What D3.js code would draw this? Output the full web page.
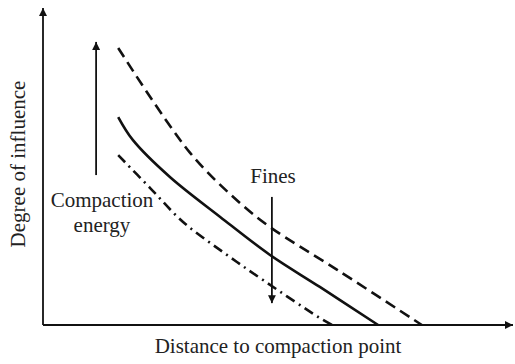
<!DOCTYPE html>
<html>
<head>
<meta charset="utf-8">
<script src="https://cdn.jsdelivr.net/npm/d3@7"></script>
<style>
  html, body { margin: 0; padding: 0; background: #fff; }
  svg { display: block; }
  text { font-family: "Liberation Serif", "Times New Roman", serif; fill: #222; }
</style>
</head>
<body>
<div id="chart"></div>
<script>
// Series (x: distance, y: degree of influence, arbitrary units 0-100)
const dashedX = [16.0, 31.3, 41.9, 48.3, 62.6, 80.6];
const dashedY = [87.4, 54.3, 38.5, 30.9, 17.4, 0];
const solidX  = [16.0, 19.1, 27.0, 37.7, 48.3, 58.9, 71.3];
const solidY  = [65.6, 58.4, 46.7, 34.1, 22.1, 12.0, 0];
const dashDotX = [16.0, 22.8, 29.8, 38.3, 46.8, 58.9, 61.5];
const dashDotY = [53.6, 43.2, 32.5, 23.0, 14.2, 2.2, 0];

// Annotation arrows [x, yFrom, yTo]
const energyArrow = [11.3, 47.3, 89.3];
const finesArrow  = [48.7, 40.4, 6.9];

const xLabel = "Distance to compaction point";
const yLabel = "Degree of influence";
const energyLabel = ["Compaction", "energy"];
const finesLabel = "Fines";

const W = 515, H = 364;
const svg = d3.select("#chart").append("svg").attr("width", W).attr("height", H);

const x = d3.scaleLinear().domain([0, 100]).range([43, 513]);
const y = d3.scaleLinear().domain([0, 100]).range([325, 8]);

const defs = svg.append("defs");
defs.append("marker")
  .attr("id", "ah").attr("viewBox", "0 0 10 10")
  .attr("refX", 10).attr("refY", 5)
  .attr("markerWidth", 10).attr("markerHeight", 8)
  .attr("markerUnits", "userSpaceOnUse")
  .attr("orient", "auto")
  .append("path").attr("d", "M0,0 L10,5 L0,10 Z").attr("fill", "#111");

// Axes (drawn via d3 axis, no ticks) with arrowheads
const xAxis = d3.axisBottom(x).tickValues([]).tickSizeOuter(0);
const yAxis = d3.axisLeft(y).tickValues([]).tickSizeOuter(0);
const gx = svg.append("g").attr("transform", `translate(0,${y(0)})`).call(xAxis);
const gy = svg.append("g").attr("transform", `translate(${x(0)},0)`).call(yAxis);
[gx, gy].forEach(g => g.select(".domain").attr("stroke", "#111").attr("stroke-width", 1.8).attr("marker-end", "url(#ah)"));
gy.select(".domain").attr("d", `M0,${y(0)}V${y(100)}`);
gx.select(".domain").attr("d", `M${x(0)},0H${x(100)}`);

const line = d3.line().x(d => x(d[0])).y(d => y(d[1])).curve(d3.curveCatmullRom.alpha(0.5));

svg.append("path").datum(d3.zip(dashedX, dashedY))
  .attr("d", line).attr("fill", "none").attr("stroke", "#111")
  .attr("stroke-width", 2.6).attr("stroke-dasharray", "11,6");
svg.append("path").datum(d3.zip(solidX, solidY))
  .attr("d", line).attr("fill", "none").attr("stroke", "#111")
  .attr("stroke-width", 2.6);
svg.append("path").datum(d3.zip(dashDotX, dashDotY))
  .attr("d", line).attr("fill", "none").attr("stroke", "#111")
  .attr("stroke-width", 2.6).attr("stroke-dasharray", "10,5,2,5");

// annotation arrows
[energyArrow, finesArrow].forEach(a => {
  svg.append("line")
    .attr("x1", x(a[0])).attr("x2", x(a[0]))
    .attr("y1", y(a[1])).attr("y2", y(a[2]))
    .attr("stroke", "#111").attr("stroke-width", 1.8)
    .attr("marker-end", "url(#ah)");
});

// labels
svg.append("text").attr("x", 278).attr("y", 353).attr("text-anchor", "middle")
  .attr("font-size", 21).text(xLabel);
svg.append("text").attr("transform", "translate(25,164) rotate(-90)")
  .attr("text-anchor", "middle").attr("font-size", 21).text(yLabel);
svg.append("text").attr("x", 102).attr("y", 207).attr("text-anchor", "middle")
  .attr("font-size", 21).text(energyLabel[0]);
svg.append("text").attr("x", 102).attr("y", 232).attr("text-anchor", "middle")
  .attr("font-size", 21).text(energyLabel[1]);
svg.append("text").attr("x", 273).attr("y", 183).attr("text-anchor", "middle")
  .attr("font-size", 21).text(finesLabel);
</script>
</body>
</html>
